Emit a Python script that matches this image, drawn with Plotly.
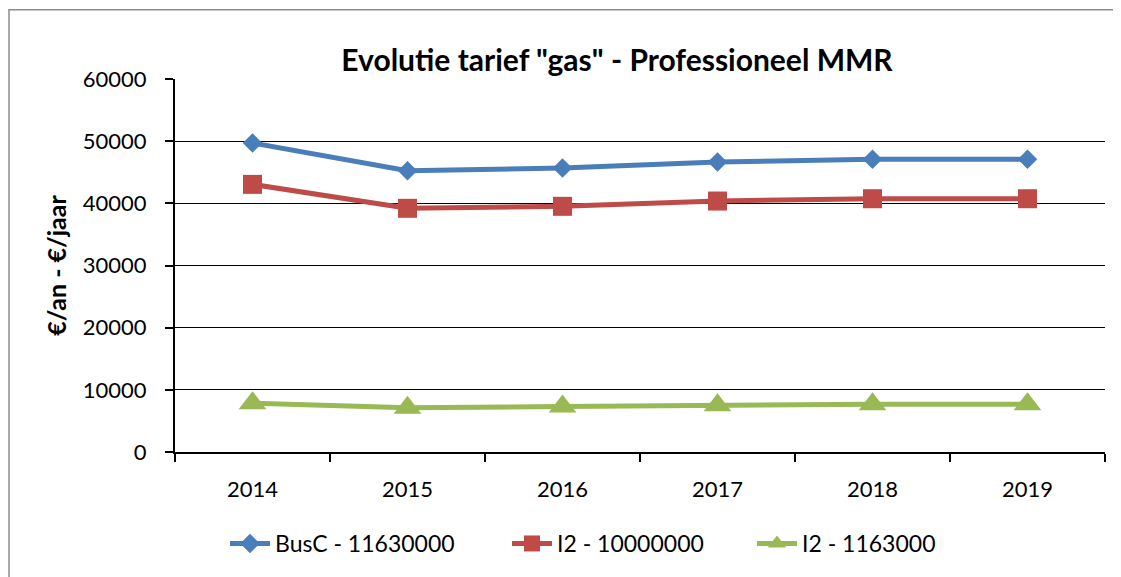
import plotly.graph_objects as go

years = ["2014", "2015", "2016", "2017", "2018", "2019"]
busc_11630000 = [49700, 45230, 45670, 46630, 47110, 47110]
i2_10000000 = [43050, 39200, 39520, 40370, 40740, 40740]
i2_1163000 = [7860, 7110, 7320, 7540, 7700, 7700]

series_names = ["BusC - 11630000", "I2 - 10000000", "I2 - 1163000"]
y_ticks = [0, 10000, 20000, 30000, 40000, 50000, 60000]

FONT = "Lato"
# The page body has an 8px margin, so the figure is 8px smaller than the window.
W, H = 1113, 569
L, R, T, B = 167, 16, 71, 123
PW, PH = W - L - R, H - T - B

fig = go.Figure()
fig.add_trace(go.Scatter(
    x=years, y=busc_11630000, name=series_names[0], mode="lines+markers",
    line=dict(color="#4A7EBB", width=5), legend="legend",
    marker=dict(symbol="diamond", size=15, color="#4A7EBB")))
fig.add_trace(go.Scatter(
    x=years, y=i2_10000000, name=series_names[1], mode="lines+markers",
    line=dict(color="#BE4B48", width=5), legend="legend2",
    marker=dict(symbol="square", size=19, color="#BE4B48")))
fig.add_trace(go.Scatter(
    x=years, y=i2_1163000, name=series_names[2], mode="lines+markers",
    line=dict(color="#98B954", width=5), legend="legend3",
    marker=dict(symbol="triangle-up", size=24, color="#98B954")))

leg_y = ((T + PH) - (546 - 8)) / PH


def leg(xpix):
    return dict(orientation="h", x=(xpix - 8 - L) / PW, xanchor="left",
                y=leg_y, yanchor="middle", itemwidth=40,
                font=dict(family=FONT, size=23, color="black"),
                bgcolor="rgba(0,0,0,0)")


fig.update_layout(
    width=W, height=H,
    margin=dict(l=L, r=R, t=T, b=B),
    paper_bgcolor="white", plot_bgcolor="white",
    font=dict(family=FONT, size=22, color="black"),
    title=dict(text='<b>Evolutie tarief "gas" - Professioneel MMR</b>',
               font=dict(family=FONT, size=30, color="black"),
               x=(617 - 8 - L) / PW, xref="paper", xanchor="center",
               y=1 - (60 - 8) / H, yref="container", yanchor="middle"),
    showlegend=True,
    legend=leg(225),
    legend2=leg(507),
    legend3=leg(752),
    xaxis=dict(type="category", range=[-0.5, 5.5], tickson="boundaries",
               ticks="outside", ticklen=8, tickwidth=1.5, tickcolor="black",
               showline=True, linecolor="black", linewidth=2,
               showgrid=False, ticklabelstandoff=17,
               tickfont=dict(family=FONT, size=22)),
    yaxis=dict(range=[0, 60000], tickvals=y_ticks,
               ticktext=[str(v) for v in y_ticks],
               ticks="outside", ticklen=8, tickwidth=1.5, tickcolor="black",
               showline=True, linecolor="black", linewidth=2,
               showgrid=True, gridcolor="black", gridwidth=1.2,
               zeroline=False, ticklabelstandoff=14,
               tickfont=dict(family=FONT, size=22),
               title=dict(text="<b>€/an - €/jaar</b>", standoff=9,
                          font=dict(family=FONT, size=25))),
    shapes=[dict(type="rect", xref="paper", yref="paper",
                 x0=(1 - L) / PW, x1=(W + 30 - L) / PW,
                 y0=(T + PH - (H + 30)) / PH, y1=(T + PH - 1.5) / PH,
                 line=dict(color="#8C8C8C", width=1.5),
                 fillcolor="rgba(0,0,0,0)", layer="below")],
)

fig.write_html("out.html")
